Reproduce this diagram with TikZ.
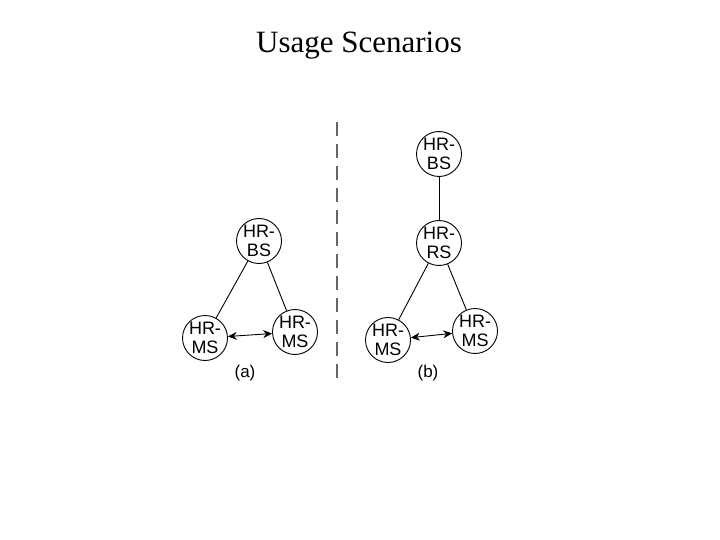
\documentclass[tikz,border=0pt]{standalone}
\usepackage{fontspec}
\setmainfont{Liberation Serif}
\newfontfamily\arialfont{Liberation Sans}
\usetikzlibrary{arrows.meta}
\begin{document}
\begin{tikzpicture}[x=1pt,y=-1pt,
  station/.style={circle,draw=black,line width=0.9pt,minimum size=44pt,inner sep=0pt,
    font=\arialfont\fontsize{18}{19}\selectfont,align=center},
  link/.style={draw=black,line width=0.9pt},
  biarrow/.style={draw=black,line width=0.9pt,{Stealth[length=9pt,width=8pt]}-{Stealth[length=9pt,width=8pt]}},
  caption/.style={font=\arialfont\fontsize{17}{18}\selectfont},
  divider/.style={draw=black!60,line width=1.5pt,dash pattern=on 14pt off 8pt}]
\useasboundingbox (0,0) rectangle (720,540);
\node[font=\fontsize{31}{34}\selectfont] (title) at (359,46) {Usage Scenarios};
% (a)
\node[station] (abs) at (259,241) {HR-\\BS};
\node[station] (ams1) at (205,338) {HR-\\MS};
\node[station] (ams2) at (295,332) {HR-\\MS};
\path[link] (abs) -- (ams1);
\path[link] (abs) -- (ams2);
\path[biarrow] (ams1) -- (ams2);
\node[caption] (capa) at (245,373) {(a)};
% divider
\coordinate (d1) at (337,122);
\coordinate (d2) at (337,384);
\path[divider] (d1) -- (d2);
% (b)
\node[station] (bbs) at (439,154) {HR-\\BS};
\node[station] (brs) at (439,243) {HR-\\RS};
\node[station] (bms1) at (388,340) {HR-\\MS};
\node[station] (bms2) at (475,331) {HR-\\MS};
\path[link] (bbs) -- (brs);
\path[link] (brs) -- (bms1);
\path[link] (brs) -- (bms2);
\path[biarrow] (bms1) -- (bms2);
\node[caption] (capb) at (428,373) {(b)};
\end{tikzpicture}
\end{document}
